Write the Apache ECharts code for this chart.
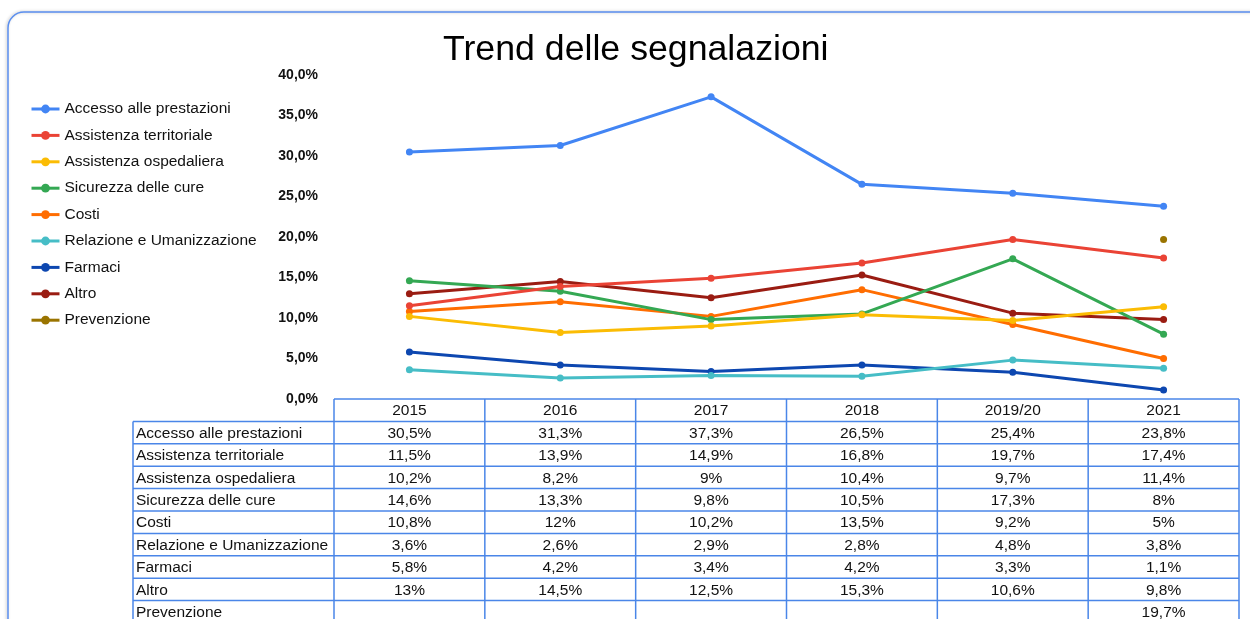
<!DOCTYPE html>
<html>
<head>
<meta charset="utf-8">
<script src="https://cdn.jsdelivr.net/npm/echarts@6/dist/echarts.min.js"></script>
<style>
  html, body { margin: 0; padding: 0; background: #fff; }
  #chart { width: 1250px; height: 619px; }
</style>
</head>
<body>
<div id="chart"></div>
<script>
var categories = ['2015', '2016', '2017', '2018', '2019/20', '2021'];
var seriesNames = ['Accesso alle prestazioni', 'Assistenza territoriale', 'Assistenza ospedaliera',
    'Sicurezza delle cure', 'Costi', 'Relazione e Umanizzazione', 'Farmaci', 'Altro', 'Prevenzione'];
var accesso = [30.5, 31.3, 37.3, 26.5, 25.4, 23.8];
var territoriale = [11.5, 13.9, 14.9, 16.8, 19.7, 17.4];
var ospedaliera = [10.2, 8.2, 9, 10.4, 9.7, 11.4];
var sicurezza = [14.6, 13.3, 9.8, 10.5, 17.3, 8];
var costi = [10.8, 12, 10.2, 13.5, 9.2, 5];
var relazione = [3.6, 2.6, 2.9, 2.8, 4.8, 3.8];
var farmaci = [5.8, 4.2, 3.4, 4.2, 3.3, 1.1];
var altro = [13, 14.5, 12.5, 15.3, 10.6, 9.8];
var prevenzione = [null, null, null, null, null, 19.7];
var yTicks = [0, 5, 10, 15, 20, 25, 30, 35, 40];

var allData = [accesso, territoriale, ospedaliera, sicurezza, costi, relazione, farmaci, altro, prevenzione];
var colors = ['#4285F4', '#EA4335', '#FBBC04', '#34A853', '#FF6D01', '#46BDC6', '#0D47B0', '#9A1C12', '#9A7400'];
var font = '"Liberation Sans", Arial, sans-serif';
var tableBlue = '#4A86E8';

function fmt(v) {
    return String(v).replace('.', ',') + '%';
}

var series = [];
for (var i = 0; i < seriesNames.length; i++) {
    series.push({
        name: seriesNames[i],
        type: 'line',
        data: allData[i],
        symbol: 'circle',
        symbolSize: 7,
        showAllSymbol: true,
        lineStyle: { width: 3 },
        z: 10 - i
    });
}

var chart = echarts.init(document.getElementById('chart'));
var option = {
    animation: false,
    color: colors,
    title: {
        text: 'Trend delle segnalazioni',
        left: 438,
        top: 27,
        textStyle: { fontFamily: font, fontSize: 35.7, fontWeight: 'normal', color: '#000' }
    },
    legend: {
        orient: 'vertical',
        left: 25,
        top: 96,
        itemWidth: 28,
        itemHeight: 11,
        itemGap: 10.4,
        data: seriesNames,
        lineStyle: { width: 3 },
        textStyle: { fontFamily: font, fontSize: 15.5, color: '#111' }
    },
    grid: { left: 334, right: 11, top: 75, bottom: 220, containLabel: false },
    xAxis: {
        type: 'category',
        data: categories,
        boundaryGap: true,
        axisLine: { show: false },
        axisTick: { show: false },
        axisLabel: { show: false }
    },
    yAxis: {
        type: 'value',
        min: yTicks[0],
        max: yTicks[yTicks.length - 1],
        interval: yTicks[1] - yTicks[0],
        splitLine: { show: false },
        axisLine: { show: false },
        axisTick: { show: false },
        axisLabel: {
            margin: 16,
            fontFamily: font,
            fontSize: 14,
            fontWeight: 'bold',
            color: '#111',
            formatter: function (v) { return v.toFixed(1).replace('.', ',') + '%'; }
        }
    },
    series: series
};
chart.setOption(option);

// tabella dati sotto il grafico, allineata alle colonne dell'asse x
var c0 = chart.convertToPixel({ xAxisIndex: 0 }, categories[0]);
var c1 = chart.convertToPixel({ xAxisIndex: 0 }, categories[1]);
var bw = c1 - c0;
var dataLeft = c0 - bw / 2;
var dataRight = dataLeft + bw * categories.length;
var tableTop = chart.convertToPixel({ yAxisIndex: 0 }, 0);
var rowH = 22.4;
var labelLeft = dataLeft - 201;
var nRows = seriesNames.length;
var tableBottom = tableTop + rowH * (nRows + 1);
var textFont = '15.5px ' + font;

var g = [];
g.push({
    type: 'rect',
    shape: { x: 8, y: 12, width: 1300, height: 700, r: 16 },
    style: { fill: 'none', stroke: '#5B8FEF', lineWidth: 1.5, shadowBlur: 3, shadowColor: 'rgba(0,0,0,0.25)', shadowOffsetX: -1 },
    silent: true, z: 0
});
function hline(x1, x2, y) {
    g.push({ type: 'line', shape: { x1: x1, y1: y, x2: x2, y2: y }, style: { stroke: tableBlue, lineWidth: 1.5 }, z: 1 });
}
function vline(x, y1, y2) {
    g.push({ type: 'line', shape: { x1: x, y1: y1, x2: x, y2: y2 }, style: { stroke: tableBlue, lineWidth: 1.5 }, z: 1 });
}
function txt(s, x, y, align) {
    g.push({
        type: 'text', z: 2,
        style: { text: s, x: x, y: y, textAlign: align, textVerticalAlign: 'middle', font: textFont, fill: '#111' }
    });
}

hline(dataLeft, dataRight, tableTop);
for (var k = 1; k <= nRows + 1; k++) {
    hline(labelLeft, dataRight, tableTop + rowH * k);
}
vline(labelLeft, tableTop + rowH, tableBottom);
for (var c = 0; c <= categories.length; c++) {
    vline(dataLeft + bw * c, tableTop, tableBottom);
}
for (var c = 0; c < categories.length; c++) {
    var cx = chart.convertToPixel({ xAxisIndex: 0 }, categories[c]);
    txt(categories[c], cx, tableTop + rowH / 2 + 1, 'center');
    for (var r = 0; r < nRows; r++) {
        var v = allData[r][c];
        if (v !== null) {
            txt(fmt(v), cx, tableTop + rowH * (r + 1.5) + 1, 'center');
        }
    }
}
for (var r = 0; r < nRows; r++) {
    txt(seriesNames[r], labelLeft + 3, tableTop + rowH * (r + 1.5) + 1, 'left');
}

chart.setOption({ graphic: g });
window.onresize = chart.resize;
</script>
</body>
</html>
